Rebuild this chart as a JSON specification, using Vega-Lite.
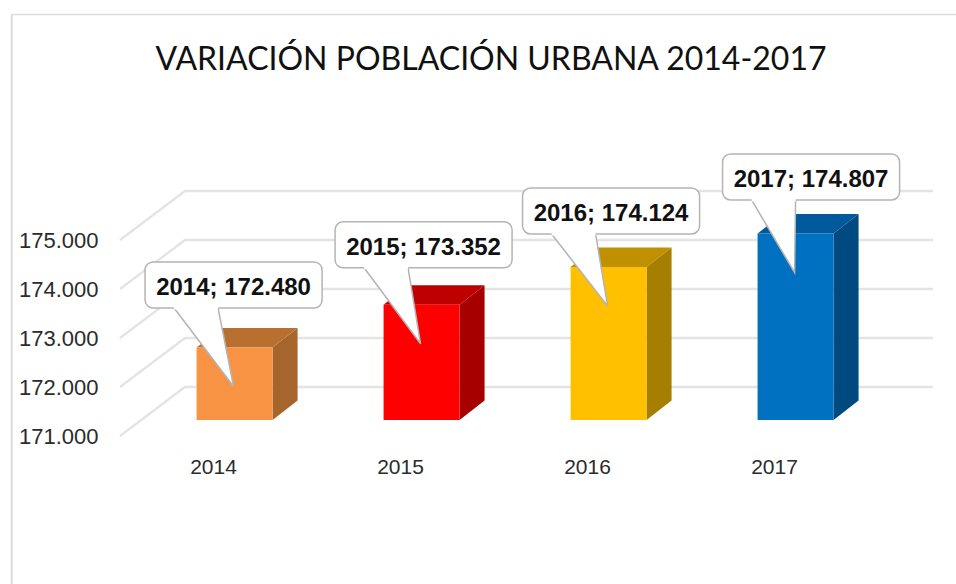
{"$schema":"https://vega.github.io/schema/vega-lite/v6.json","width":956,"height":584,"padding":0,"autosize":{"type":"none"},"background":"white","config":{"view":{"stroke":null}},
"title":{"text":"VARIACIÓN POBLACIÓN URBANA 2014-2017","font":"Lato","fontSize":32,"fontWeight":"normal","color":"#111111","anchor":"middle","offset":-102,"dx":13,"baseline":"alphabetic"},
"layer":[
{"data":{"values":[{"value":171000},{"value":172000},{"value":173000},{"value":174000},{"value":175000}]},
"transform":[{"calculate":"[0,1,2]","as":"pt"},{"flatten":["pt"]},{"calculate":"datum.pt==0?2013.4973:(datum.pt==1?2013.8449:2017.845)","as":"gx"},{"calculate":"datum.value+(datum.pt>0?1000:0)","as":"gy"}],
"mark":{"type":"line","stroke":"#e4e4e4","strokeWidth":2.3},
"encoding":{"x":{"field":"gx","type":"quantitative","scale":{"domain":[2012.8556,2017.9679],"nice":false,"zero":false},"axis":{"values":[2014,2015,2016,2017],"format":"d","title":null,"grid":false,"domain":false,"ticks":false,"labelFont":"Liberation Sans","labelFontSize":21,"labelColor":"#2b2b2b","labelPadding":2,"labelOffset":-1,"offset":-130,"labelFlush":false}},
"y":{"field":"gy","type":"quantitative","scale":{"domain":[167979.6,179898],"nice":false,"zero":false},"axis":{"values":[171000,172000,173000,174000,175000],"labelExpr":"replace(format(datum.value,','),',','.')","title":null,"grid":false,"domain":false,"ticks":false,"labelFont":"Liberation Sans","labelFontSize":22,"labelColor":"#2b2b2b","labelPadding":2,"offset":-100,"labelFlush":false,"labelOverlap":false}},
"detail":{"field":"value"},"order":{"field":"pt","type":"quantitative"}}},
{"data":{"values":[{"edge":"frame"}]},"mark":{"type":"rule","stroke":"#dcdcdc","strokeWidth":2},"encoding":{"x":{"datum":2012.918,"type":"quantitative"},"y":{"datum":179602,"type":"quantitative"},"y2":{"datum":167980}}},
{"data":{"values":[{"edge":"frame"}]},"mark":{"type":"rule","stroke":"#dcdcdc","strokeWidth":1.5},"encoding":{"x":{"datum":2012.918,"type":"quantitative"},"x2":{"datum":2017.9679},"y":{"datum":179602,"type":"quantitative"}}},
{"data":{"values":[{"year":2014,"value":172480},{"year":2015,"value":173352},{"year":2016,"value":174124},{"year":2017,"value":174807}]},
"transform":[
{"calculate":"datum.year+0.11","as":"c"},
{"calculate":"datum.c-0.2032","as":"xl"},{"calculate":"datum.c+0.2032","as":"xr"},
{"calculate":"datum.value+326","as":"T"},
{"calculate":"171326","as":"B"},
{"calculate":"datum.c+{2014:-1,2015:2,2016:2.5,2017:15.5}[datum.year]*0.005348","as":"bc"},
{"calculate":"datum.bc-0.4733","as":"bl"},{"calculate":"datum.bc+0.4733","as":"br"},
{"calculate":"datum.T+{2014:39.5,2015:37,2016:33,2017:33.5}[datum.year]*20.408","as":"bb"},
{"calculate":"datum.bb+939","as":"bt"},{"calculate":"(datum.bb+datum.bt)/2-60","as":"bm"},
{"calculate":"datum.c-0.005348","as":"tipx"},{"calculate":"datum.T-796","as":"tipy"},
{"calculate":"datum.bl+0.1551","as":"pl"},{"calculate":"datum.bl+0.3904","as":"pr"},
{"calculate":"datum.year+'; '+replace(format(datum.value,','),',','.')","as":"label"},
{"calculate":"[0,1]","as":"t"},{"flatten":["t"]},
{"calculate":"datum.xr+datum.t*0.1337","as":"sx"},{"calculate":"datum.B+datum.t*398","as":"sy"},{"calculate":"datum.T+datum.t*398","as":"sy2"},
{"calculate":"datum.xl+datum.t*0.1337","as":"tx"},{"calculate":"datum.xr+datum.t*0.1337","as":"tx2"},
{"calculate":"datum.t==0?datum.bb:datum.tipy","as":"py"},{"calculate":"datum.t==0?datum.pl:datum.tipx","as":"px"},{"calculate":"datum.t==0?datum.pr:datum.tipx","as":"px2"}
],
"resolve":{"scale":{"fill":"independent","color":"independent"}},
"layer":[
{"mark":{"type":"area","orient":"vertical"},"encoding":{"x":{"field":"sx","type":"quantitative"},"y":{"field":"sy","type":"quantitative"},"y2":{"field":"sy2"},"color":{"field":"year","type":"nominal","legend":null,"scale":{"domain":[2014,2015,2016,2017],"range":["#a5652c","#a60000","#a67e00","#004a80"]}}}},
{"mark":{"type":"area","orient":"horizontal"},"encoding":{"y":{"field":"sy2","type":"quantitative"},"x":{"field":"tx","type":"quantitative"},"x2":{"field":"tx2"},"fill":{"field":"year","type":"nominal","legend":null,"scale":{"domain":[2014,2015,2016,2017],"range":["#b86f30","#bf0000","#bf9000","#00599a"]}}}},
{"transform":[{"filter":"datum.t==0"}],"mark":{"type":"rect"},"encoding":{"x":{"field":"xl","type":"quantitative"},"x2":{"field":"xr"},"y":{"field":"B","type":"quantitative"},"y2":{"field":"T"},"fill":{"field":"year","type":"nominal","legend":null,"scale":{"domain":[2014,2015,2016,2017],"range":["#f79343","#ff0000","#ffc000","#0070c0"]}}}},
{"mark":{"type":"area","orient":"horizontal","fill":"white","stroke":"#b4b4b4","strokeWidth":1.5},"encoding":{"y":{"field":"py","type":"quantitative"},"x":{"field":"px","type":"quantitative"},"x2":{"field":"px2"},"detail":{"field":"year"}}},
{"transform":[{"filter":"datum.t==0"}],"mark":{"type":"rect","fill":"white","stroke":"#b4b4b4","strokeWidth":1.5,"cornerRadius":8},"encoding":{"x":{"field":"bl","type":"quantitative"},"x2":{"field":"br"},"y":{"field":"bb","type":"quantitative"},"y2":{"field":"bt"}}},
{"transform":[{"filter":"datum.t==0"}],"mark":{"type":"rule","stroke":"white","strokeWidth":3},"encoding":{"x":{"field":"pl","type":"quantitative"},"x2":{"field":"pr"},"y":{"field":"bb","type":"quantitative"}}},
{"transform":[{"filter":"datum.t==0"}],"mark":{"type":"text","font":"Liberation Sans","fontWeight":"bold","fontSize":24,"color":"#111111","align":"center","baseline":"middle"},"encoding":{"x":{"field":"bc","type":"quantitative"},"y":{"field":"bm","type":"quantitative"},"text":{"field":"label"}}}
]}
]}
